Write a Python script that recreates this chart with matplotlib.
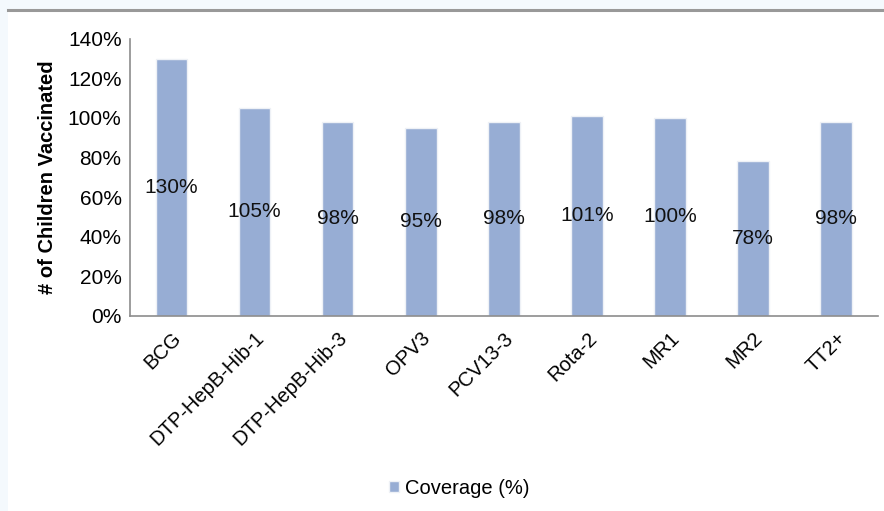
import matplotlib.pyplot as plt
from matplotlib.patches import Rectangle
from matplotlib.lines import Line2D

plt.rcParams['font.family'] = ['Liberation Sans', 'DejaVu Sans']

# data
vaccines = ["BCG", "DTP-HepB-Hib-1", "DTP-HepB-Hib-3", "OPV3", "PCV13-3",
            "Rota-2", "MR1", "MR2", "TT2+"]
coverage = [130, 105, 98, 95, 98, 101, 100, 78, 98]

bar_color = "#97add4"
fs = 14.5

fig = plt.figure(figsize=(8.84, 5.11), dpi=100)
fig.patch.set_facecolor("#f4f9fd")

# white panel with gray line on top
fig.patches.append(Rectangle((8 / 884, 0), 1, 1 - 11 / 511, transform=fig.transFigure,
                             facecolor="white", edgecolor="none", zorder=-5))
fig.lines.append(Line2D([8 / 884, 1], [1 - 10 / 511, 1 - 10 / 511], transform=fig.transFigure,
                        color="#999999", linewidth=2.2, zorder=-4))

ax = fig.add_axes([0.147, 0.382, 0.846, 0.542])
ax.set_facecolor("white")

x = range(len(vaccines))
bars = ax.bar(x, coverage, width=0.38, color=bar_color, edgecolor="#eef1f6",
              linewidth=1.0, label="Coverage (%)", zorder=2)

for xi, v in zip(x, coverage):
    ax.text(xi, v / 2, f"{v}%", ha="center", va="center", fontsize=fs + 0.5, color="#111111")

ax.set_ylim(0, 140)
ax.set_yticks(range(0, 141, 20))
ax.set_yticklabels([f"{t}%" for t in range(0, 141, 20)], fontsize=fs + 0.5)
ax.set_xlim(-0.5, len(vaccines) - 0.5)
ax.set_xticks(list(x))
ax.set_xticklabels(vaccines, rotation=45, ha="right", rotation_mode="anchor", fontsize=fs)
ax.tick_params(axis="x", length=0, pad=9)
ax.tick_params(axis="y", length=0, pad=6)

ax.set_ylabel("# of Children Vaccinated", fontsize=fs, fontweight="bold", labelpad=8)

for side in ["top", "right"]:
    ax.spines[side].set_visible(False)
for side in ["left", "bottom"]:
    ax.spines[side].set_color("#8c8c8c")
    ax.spines[side].set_linewidth(1.2)

fig.legend(handles=[bars], loc="center", bbox_to_anchor=(0.52, 0.045), frameon=False,
           fontsize=fs, handlelength=0.5, handleheight=0.5, handletextpad=0.3)

fig.savefig("out.png", dpi=100, facecolor=fig.get_facecolor())
